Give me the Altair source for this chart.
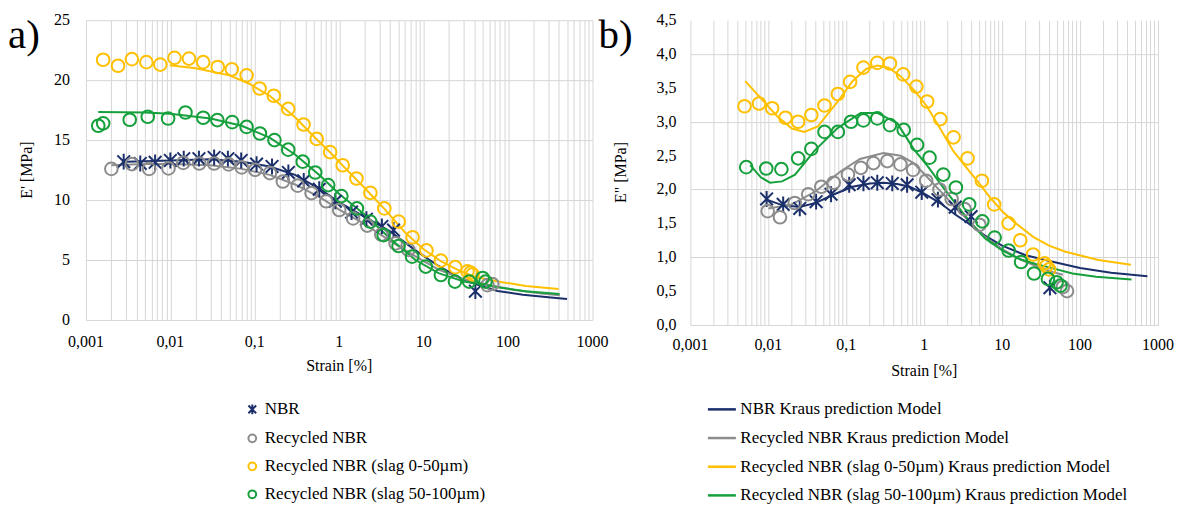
import altair as alt
import pandas as pd

series_names = ["NBR", "Recycled NBR", "Recycled NBR (slag 0-50µm)", "Recycled NBR (slag 50-100µm)"]
model_names = [s + " Kraus prediction Model" for s in series_names]
colors = ["#1b2f6b", "#8c8c8c", "#ffc000", "#15a03c"]

decades = [0.001, 0.01, 0.1, 1, 10, 100, 1000]
decade_labels = ["0,001", "0,01", "0,1", "1", "10", "100", "1000"]
ya_ticks = [0, 5, 10, 15, 20, 25]
ya_labels = ["0", "5", "10", "15", "20", "25"]
yb_ticks = [0.0, 0.5, 1.0, 1.5, 2.0, 2.5, 3.0, 3.5, 4.0, 4.5]
yb_labels = ["0,0", "0,5", "1,0", "1,5", "2,0", "2,5", "3,0", "3,5", "4,0", "4,5"]

a_nbr_x = [0.0028, 0.0044, 0.0066, 0.010, 0.0144, 0.0218, 0.033, 0.048, 0.069, 0.105, 0.16, 0.25, 0.38, 0.58, 0.9, 1.4, 2.1, 3.2, 4.4, 41]
a_nbr_y = [13.2, 13.05, 13.15, 13.3, 13.45, 13.45, 13.55, 13.45, 13.3, 13.0, 12.8, 12.3, 11.6, 10.9, 9.9, 9.0, 8.4, 7.8, 7.5, 2.4]
a_rec_x = [0.002, 0.0035, 0.0056, 0.0095, 0.0142, 0.022, 0.033, 0.049, 0.07, 0.101, 0.151, 0.215, 0.322, 0.47, 0.70, 1.0, 1.46, 2.15, 3.15, 4.65, 6.6, 57, 65]
a_rec_y = [12.6, 13.0, 12.6, 12.64, 13.1, 13.05, 13.05, 12.97, 12.72, 12.52, 12.25, 11.55, 11.2, 10.58, 9.9, 9.17, 8.47, 7.87, 7.12, 6.39, 5.85, 2.9, 3.0]
a_s1_x = [0.0016, 0.0024, 0.0035, 0.0052, 0.0076, 0.0112, 0.0166, 0.0245, 0.0364, 0.0535, 0.080, 0.114, 0.168, 0.249, 0.378, 0.541, 0.78, 1.1, 1.6, 2.34, 3.42, 5.06, 7.4, 10.8, 16, 23.7, 33, 36, 38]
a_s1_y = [21.7, 21.2, 21.75, 21.5, 21.3, 21.86, 21.8, 21.5, 21.1, 20.9, 20.4, 19.3, 18.7, 17.6, 16.3, 15.1, 14.0, 12.9, 11.8, 10.6, 9.3, 8.2, 6.9, 5.8, 4.95, 4.4, 4.05, 3.95, 3.8]
a_s2_x = [0.0014, 0.0016, 0.0033, 0.0054, 0.0094, 0.0151, 0.0245, 0.036, 0.054, 0.08, 0.115, 0.171, 0.249, 0.37, 0.52, 0.74, 1.06, 1.62, 2.33, 3.36, 5.05, 7.3, 10.6, 16, 23.5, 34.6, 50, 54]
a_s2_y = [16.2, 16.4, 16.7, 16.95, 16.8, 17.3, 16.86, 16.67, 16.5, 16.1, 15.55, 15.0, 14.2, 13.2, 12.3, 11.25, 10.33, 9.3, 8.2, 7.08, 6.17, 5.28, 4.45, 3.75, 3.2, 3.2, 3.5, 3.2]

a_nbr_mx = [0.003, 0.01, 0.03, 0.07, 0.15, 0.3, 0.6, 1, 2, 4, 8, 15, 30, 75, 150, 300, 500]
a_nbr_my = [13.2, 13.3, 13.4, 13.2, 12.8, 12.1, 10.9, 9.8, 8.6, 7.4, 5.8, 4.5, 3.3, 2.42, 2.1, 1.9, 1.75]
a_rec_mx = [0.002, 0.005, 0.01, 0.03, 0.07, 0.15, 0.3, 0.6, 1, 2, 4, 8, 15, 30, 65, 120, 250, 410]
a_rec_my = [12.9, 13.0, 13.0, 12.9, 12.6, 12.1, 11.3, 10.2, 9.2, 8.0, 6.6, 5.3, 4.2, 3.4, 2.85, 2.5, 2.2, 2.05]
a_s1_mx = [0.0098, 0.02, 0.05, 0.086, 0.15, 0.3, 0.5, 0.8, 1.2, 2, 3.5, 6, 10, 16, 25, 40, 79, 162, 396]
a_s1_my = [21.25, 21.0, 20.4, 19.7, 18.7, 16.9, 15.3, 13.9, 12.6, 11.0, 9.2, 7.3, 5.9, 4.9, 4.2, 3.6, 3.19, 2.83, 2.58]
a_s2_mx = [0.0014, 0.005, 0.01, 0.03, 0.07, 0.15, 0.3, 0.6, 1, 2, 4, 8, 15, 30, 50, 79, 160, 407]
a_s2_my = [17.35, 17.3, 17.2, 16.8, 16.2, 15.2, 13.8, 12.0, 10.5, 8.8, 6.8, 5.0, 3.9, 3.2, 2.95, 2.7, 2.4, 2.17]

b_nbr_x = [0.0095, 0.0155, 0.0253, 0.041, 0.0638, 0.109, 0.166, 0.25, 0.389, 0.603, 0.93, 1.5, 2.5, 4.0, 41]
b_nbr_y = [1.86, 1.78, 1.72, 1.82, 1.93, 2.07, 2.09, 2.10, 2.09, 2.07, 1.96, 1.85, 1.74, 1.60, 0.55]
b_rec_x = [0.0098, 0.0141, 0.0218, 0.0325, 0.0478, 0.069, 0.105, 0.154, 0.223, 0.336, 0.495, 0.72, 1.06, 1.57, 2.25, 3.3, 5.1, 60, 68]
b_rec_y = [1.68, 1.59, 1.80, 1.93, 2.04, 2.10, 2.22, 2.32, 2.39, 2.42, 2.37, 2.29, 2.13, 2.0, 1.86, 1.71, 1.48, 0.56, 0.5]
b_s1_x = [0.00495, 0.0076, 0.0112, 0.0166, 0.0241, 0.0356, 0.0525, 0.078, 0.112, 0.166, 0.25, 0.363, 0.537, 0.794, 1.09, 1.61, 2.38, 3.6, 5.5, 7.9, 12.1, 17.1, 25, 35, 37, 40]
b_s1_y = [3.23, 3.27, 3.2, 3.06, 3.0, 3.1, 3.24, 3.41, 3.59, 3.80, 3.87, 3.86, 3.70, 3.52, 3.30, 3.04, 2.77, 2.46, 2.13, 1.78, 1.50, 1.25, 1.04, 0.91, 0.87, 0.82]
b_s2_x = [0.0052, 0.0094, 0.0147, 0.0241, 0.0356, 0.0525, 0.078, 0.115, 0.166, 0.25, 0.363, 0.546, 0.81, 1.17, 1.76, 2.55, 3.77, 5.57, 8.0, 12.1, 17.5, 25.7, 38.7, 50, 56]
b_s2_y = [2.33, 2.31, 2.30, 2.46, 2.60, 2.85, 2.85, 3.0, 3.02, 3.05, 2.95, 2.88, 2.66, 2.47, 2.22, 2.03, 1.78, 1.53, 1.29, 1.10, 0.93, 0.76, 0.68, 0.63, 0.58]

b_nbr_mx = [0.0095, 0.015, 0.025, 0.04, 0.07, 0.12, 0.2, 0.3, 0.45, 0.65, 1.0, 1.6, 2.5, 3.7, 6, 10, 20, 46, 100, 250, 731]
b_nbr_my = [1.85, 1.77, 1.74, 1.80, 1.93, 2.04, 2.09, 2.10, 2.08, 2.04, 1.94, 1.80, 1.63, 1.50, 1.32, 1.17, 1.03, 0.93, 0.84, 0.77, 0.72]
b_rec_mx = [0.01, 0.02, 0.04, 0.085, 0.15, 0.3, 0.5, 0.73, 1.06, 1.6, 2.5, 4, 6, 10, 17, 27, 45, 60]
b_rec_my = [1.72, 1.78, 1.97, 2.27, 2.45, 2.54, 2.50, 2.39, 2.20, 1.98, 1.74, 1.50, 1.30, 1.12, 0.97, 0.87, 0.78, 0.74]
b_s1_mx = [0.00505, 0.008, 0.013, 0.02, 0.029, 0.043, 0.078, 0.12, 0.18, 0.25, 0.35, 0.5, 0.75, 1.08, 1.6, 2.36, 3.5, 5, 7, 10, 15, 25, 40, 65, 172, 449]
b_s1_my = [3.60, 3.35, 3.08, 2.90, 2.85, 2.93, 3.30, 3.60, 3.78, 3.83, 3.80, 3.67, 3.46, 3.23, 2.90, 2.57, 2.32, 2.10, 1.88, 1.68, 1.50, 1.30, 1.17, 1.08, 0.96, 0.89]
b_s2_mx = [0.00585, 0.008, 0.0105, 0.015, 0.022, 0.039, 0.078, 0.153, 0.25, 0.45, 0.73, 1.1, 1.7, 2.5, 4, 6, 10, 17, 27, 40, 80, 160, 457]
b_s2_my = [2.36, 2.18, 2.10, 2.12, 2.22, 2.57, 2.91, 3.13, 3.13, 2.98, 2.60, 2.35, 2.05, 1.80, 1.50, 1.28, 1.10, 0.97, 0.90, 0.85, 0.76, 0.71, 0.67]


def build(groups, names, col):
    frames = []
    for (xs, ys), nm in zip(groups, names):
        frames.append(pd.DataFrame({"strain": xs, "value": ys, col: nm}))
    return pd.concat(frames, ignore_index=True)


pts_a = build([(a_nbr_x, a_nbr_y), (a_rec_x, a_rec_y), (a_s1_x, a_s1_y), (a_s2_x, a_s2_y)], series_names, "series")
mod_a = build([(a_nbr_mx, a_nbr_my), (a_rec_mx, a_rec_my), (a_s1_mx, a_s1_my), (a_s2_mx, a_s2_my)], model_names, "model")
pts_b = build([(b_nbr_x, b_nbr_y), (b_rec_x, b_rec_y), (b_s1_x, b_s1_y), (b_s2_x, b_s2_y)], series_names, "series")
mod_b = build([(b_nbr_mx, b_nbr_my), (b_rec_mx, b_rec_my), (b_s1_mx, b_s1_my), (b_s2_mx, b_s2_my)], model_names, "model")

SERIF = "'Liberation Serif', 'Times New Roman', Times, serif"
GRID = "#d6d6d6"
FS = 16

grid_vals = [m * 10.0 ** e for e in range(-3, 3) for m in range(1, 10)] + [1000]

x_scale = alt.Scale(type="log", domain=[0.001, 1000], nice=False)
X_AXIS = alt.Axis(values=grid_vals, labels=False, title=None, grid=True, ticks=False,
                  domain=False, gridColor=GRID, gridWidth=1)

nbr_path = "M-1,-1L1,1M-1,1L1,-1M0,-1.25L0,1.25"

pt_legend = alt.Legend(orient="none", legendX=158, legendY=381, title=None,
                       labelFont=SERIF, labelFontSize=17, labelColor="black", labelLimit=0,
                       symbolSize=60, symbolStrokeWidth=2, symbolOpacity=1, rowPadding=10,
                       labelOffset=4, padding=0)
ln_legend = alt.Legend(orient="none", legendX=621, legendY=374, title=None,
                       labelFont=SERIF, labelFontSize=17, labelColor="black", labelLimit=0,
                       symbolType="stroke", symbolSize=784, symbolStrokeWidth=2.5,
                       rowPadding=4.7, labelOffset=3, padding=0)

color_enc = alt.Color("series:N", scale=alt.Scale(domain=series_names, range=colors), legend=pt_legend)
shape_enc = alt.Shape("series:N", scale=alt.Scale(domain=series_names,
                                                   range=[nbr_path, "circle", "circle", "circle"]),
                      legend=pt_legend)
stroke_enc = alt.Stroke("model:N", scale=alt.Scale(domain=model_names, range=colors), legend=ln_legend)


def panel(pts, mods, ydom, yvals, ylabs, ytitle, tag, w, h, tag_x, xlab_dy, ylab_dx, ytitle_dx):
    y_axis = alt.Axis(values=yvals, labels=False, title=None, grid=True, ticks=False,
                      domain=False, gridColor=GRID, gridWidth=1)
    y_scale = alt.Scale(domain=ydom, nice=False)
    xenc = alt.X("strain:Q", scale=x_scale, axis=X_AXIS)
    yenc = alt.Y("value:Q", scale=y_scale, axis=y_axis)
    lines = alt.Chart(mods).mark_line(strokeWidth=2).encode(x=xenc, y=yenc, stroke=stroke_enc)
    points = alt.Chart(pts).mark_point(filled=False, strokeWidth=2, size=160, opacity=1).encode(
        x=xenc, y=yenc, color=color_enc, shape=shape_enc,
    )
    xlabels = alt.Chart(pd.DataFrame({"v": decades, "lab": decade_labels})).mark_text(
        align="center", baseline="middle", font=SERIF, fontSize=FS, color="black"
    ).encode(x=alt.X("v:Q", scale=x_scale), y=alt.value(h + xlab_dy), text="lab:N")
    ylabels = alt.Chart(pd.DataFrame({"v": yvals, "lab": ylabs})).mark_text(
        align="right", baseline="middle", font=SERIF, fontSize=FS, color="black"
    ).encode(x=alt.value(ylab_dx), y=alt.Y("v:Q", scale=y_scale), text="lab:N")
    xtitle = alt.Chart(pd.DataFrame({"t": ["Strain [%]"]})).mark_text(
        align="center", baseline="middle", font=SERIF, fontSize=FS, color="black"
    ).encode(x=alt.value(w / 2), y=alt.value(h + 46), text="t:N")
    ytitle_m = alt.Chart(pd.DataFrame({"t": [ytitle]})).mark_text(
        align="center", baseline="middle", font=SERIF, fontSize=FS, color="black", angle=270
    ).encode(x=alt.value(ytitle_dx), y=alt.value(h / 2), text="t:N")
    label = alt.Chart(pd.DataFrame({"t": [tag]})).mark_text(
        align="left", baseline="middle", font=SERIF, fontSize=41, color="black"
    ).encode(x=alt.value(tag_x), y=alt.value(16), text="t:N")
    return alt.layer(lines, points, xlabels, ylabels, xtitle, ytitle_m, label).properties(width=w, height=h)


pa = panel(pts_a, mod_a, [0, 25], ya_ticks, ya_labels, "E' [MPa]", "a)", 507, 300, -78, 22, -16, -59)
pb = panel(pts_b, mod_b, [0, 4.5], yb_ticks, yb_labels, 'E" [MPa]', "b)", 468, 305, -92, 20, -14, -69)

chart = alt.hconcat(pa, pb, spacing=98, bounds="flush").properties(
    padding={"left": 0, "top": 4, "right": 0, "bottom": 0}
).configure_view(strokeWidth=0)

chart.save("out.html", embed_options={"renderer": "svg", "actions": False})
